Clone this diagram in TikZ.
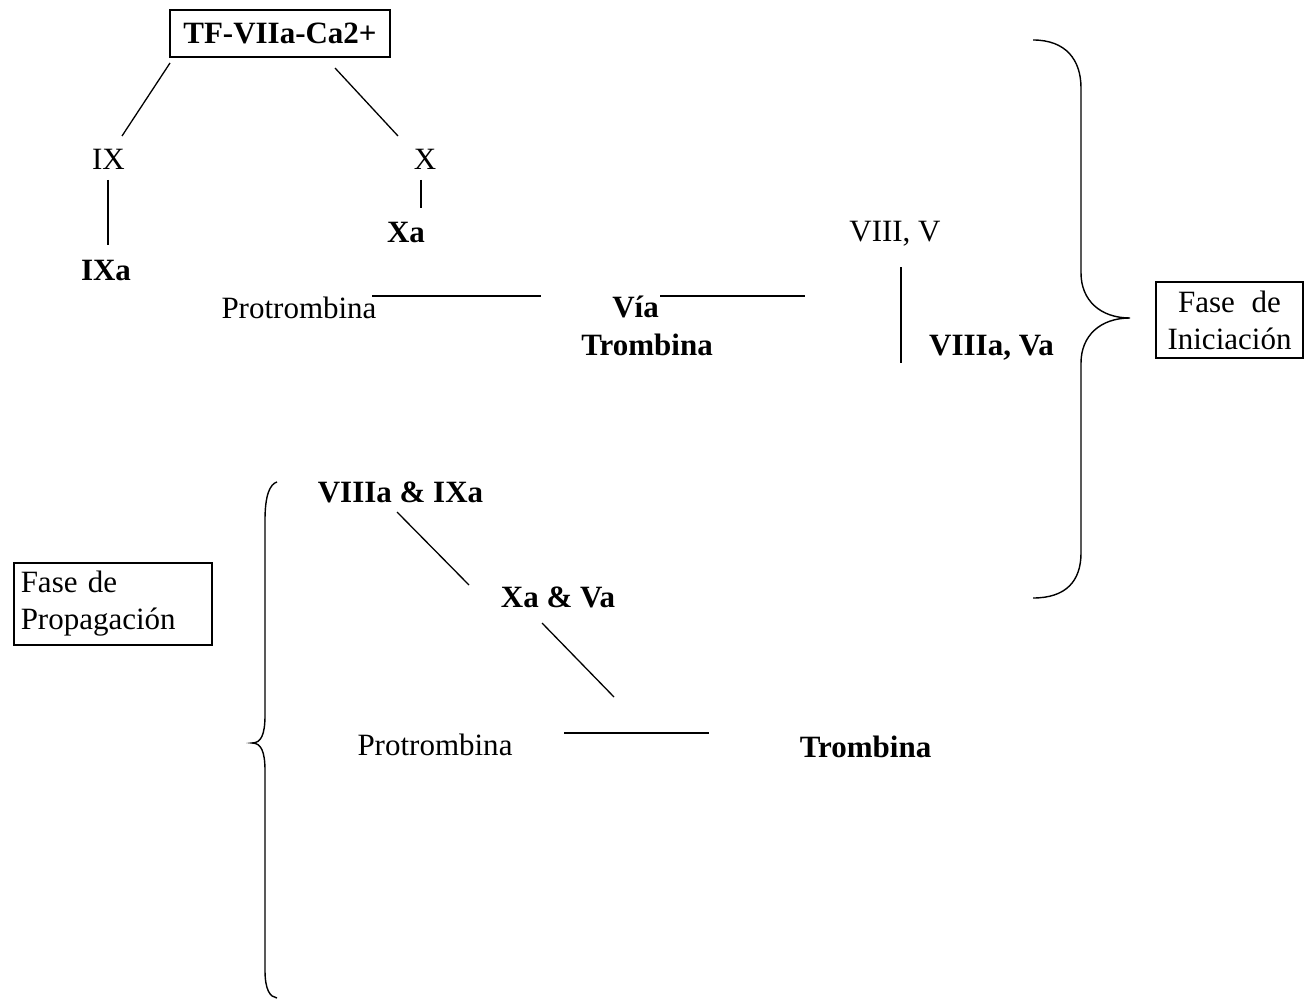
\documentclass[tikz,border=0pt]{standalone}
\usepackage{fontspec}
\setmainfont{Liberation Serif}
\begin{document}
\begin{tikzpicture}[x=1pt,y=-1pt,
  txt/.style={font=\fontsize{31}{37}\selectfont, inner sep=0pt, anchor=base},
  btxt/.style={font=\fontsize{31}{37}\selectfont\bfseries, inner sep=0pt, anchor=base},
  framed/.style={draw, line width=1.5pt, font=\fontsize{31}{37}\selectfont},
  conn/.style={line width=1.3pt},
  bracest/.style={line width=1.4pt}]
\useasboundingbox (0,0) rectangle (1308,1000);

% --- Fase de iniciacion ---
\node[framed, minimum width=220pt, minimum height=47pt, inner sep=0pt] (tf) at (280,33.5) {\bfseries TF-VIIa-Ca2+};
\node[txt] (ix) at (108.5,170) {IX};
\node[txt] (x) at (425,170) {X};
\node[btxt] (ixa) at (106,280) {IXa};
\node[btxt] (xa) at (406,243) {Xa};
\node[txt] (viiiv) at (895,242) {VIII, V};
\node[txt] (prot1) at (299,318) {Protrombina};
\node[btxt] (via) at (635.5,317) {Vía};
\node[btxt] (trom1) at (647,355) {Trombina};
\node[btxt] (viiiava) at (991.5,355) {VIIIa, Va};

\coordinate (a1) at (170,63);  \coordinate (a2) at (122,136);
\coordinate (b1) at (335,68);  \coordinate (b2) at (398,136);
\coordinate (c1) at (108,180); \coordinate (c2) at (108,245);
\coordinate (d1) at (421,180); \coordinate (d2) at (421,208);
\coordinate (e1) at (372,296); \coordinate (e2) at (541,296);
\coordinate (f1) at (660,296); \coordinate (f2) at (805,296);
\coordinate (g1) at (901,267); \coordinate (g2) at (901,363);

\draw[conn] (a1) -- (a2);
\draw[conn] (b1) -- (b2);
\draw[conn] (c1) -- (c2);
\draw[conn] (d1) -- (d2);
\draw[conn] (e1) -- (e2);
\draw[conn] (f1) -- (f2);
\draw[conn] (g1) -- (g2);

% right brace
\draw[bracest] (1033,40) .. controls (1066,40) and (1081,60) .. (1081,88)
  -- (1081,273) .. controls (1081,300) and (1100,318) .. (1130,318)
  .. controls (1100,318) and (1081,336) .. (1081,363)
  -- (1081,553) .. controls (1081,581) and (1066,598) .. (1033,598);
\node[framed, minimum width=147pt, minimum height=76pt, inner sep=0pt, align=center] (fini) at (1229.5,320) {Fase\hspace{9pt} de\\Iniciación};

% --- Fase de propagacion ---
\node[btxt] (viiiaixa) at (400.5,502) {VIIIa \& IXa};
\node[btxt] (xava) at (558,607) {Xa \& Va};
\node[txt] (prot2) at (435,755) {Protrombina};
\node[btxt] (trom2) at (865.5,757) {Trombina};

\coordinate (h1) at (397,512); \coordinate (h2) at (469,585);
\coordinate (i1) at (542,623); \coordinate (i2) at (614,697);
\coordinate (j1) at (564,733); \coordinate (j2) at (709,733);
\draw[conn] (h1) -- (h2);
\draw[conn] (i1) -- (i2);
\draw[conn] (j1) -- (j2);

% left brace
\draw[bracest] (277,482) .. controls (270,484) and (265,495) .. (265,520)
  -- (265,715) .. controls (265,735) and (261,743) .. (252,743)
  .. controls (261,743) and (265,751) .. (265,771)
  -- (265,970) .. controls (265,990) and (270,997) .. (277,998);
\node[framed, text width=184pt, inner xsep=7pt, minimum height=82pt, inner ysep=0pt, align=left, anchor=north west] (fprop) at (13,562) {Fase de\\Propagación};
\end{tikzpicture}
\end{document}
